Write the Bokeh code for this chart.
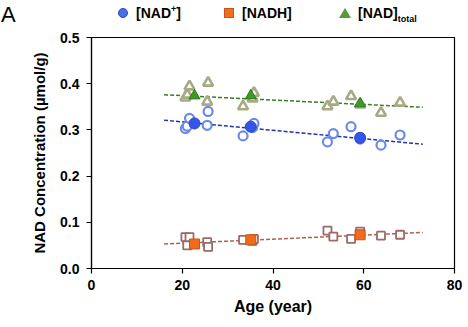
from bokeh.plotting import figure
from bokeh.models import Range1d, FixedTicker, NumeralTickFormatter, Div
from bokeh.layouts import column
from bokeh.embed import file_html
from bokeh.resources import INLINE

# individual subjects
ages = [20.7, 21.1, 21.6, 25.5, 25.7, 33.4, 35.5, 35.8, 52.0, 53.3, 57.2, 59.2, 63.8, 68.0]
nad_plus = [0.303, 0.308, 0.325, 0.310, 0.340, 0.287, 0.305, 0.314, 0.274, 0.292, 0.307, 0.280, 0.267, 0.289]
nadh = [0.068, 0.050, 0.068, 0.057, 0.047, 0.062, 0.060, 0.064, 0.082, 0.069, 0.064, 0.080, 0.071, 0.073]
nad_total = [0.370, 0.376, 0.394, 0.361, 0.402, 0.351, 0.368, 0.380, 0.351, 0.361, 0.373, 0.355, 0.337, 0.359]

# group means
mean_ages = [22.7, 35.1, 59.2]
mean_nad_plus = [0.314, 0.307, 0.283]
mean_nadh = [0.053, 0.062, 0.073]
mean_nad_total = [0.374, 0.374, 0.357]

# trend lines
trend_x = [16, 73]
trend_nad_plus = [0.321, 0.269]
trend_nadh = [0.053, 0.078]
trend_nad_total = [0.376, 0.349]

x_ticks = [0, 20, 40, 60, 80]
y_ticks = [0.0, 0.1, 0.2, 0.3, 0.4, 0.5]

FONT = "Liberation Sans"

p = figure(width=468, height=299, output_backend="svg", toolbar_location=None,
           x_range=Range1d(0, 80), y_range=Range1d(0, 0.5),
           min_border_left=91, min_border_right=14, min_border_top=9, min_border_bottom=59,
           margin=(0, 0, 0, 0))
p.xgrid.visible = False
p.ygrid.visible = False
p.outline_line_color = "black"
p.outline_line_width = 1.2
p.background_fill_color = "white"
p.border_fill_color = "white"

for ax in (p.xaxis[0], p.yaxis[0]):
    ax.major_tick_in = 0
    ax.major_tick_out = 5
    ax.minor_tick_line_color = None
    ax.axis_line_color = "black"
    ax.axis_line_width = 1.2
    ax.major_tick_line_width = 1.2
    ax.major_label_text_font = FONT
    ax.major_label_text_font_style = "bold"
    ax.major_label_text_font_size = "14px"
    ax.major_label_text_color = "black"
    ax.axis_label_text_font = FONT
    ax.axis_label_text_font_style = "bold"
    ax.axis_label_text_color = "black"

p.xaxis.ticker = FixedTicker(ticks=x_ticks)
p.yaxis.ticker = FixedTicker(ticks=y_ticks)
p.yaxis.formatter = NumeralTickFormatter(format="0.0")
p.xaxis.axis_label = "Age (year)"
p.yaxis.axis_label = "NAD Concentration (µmol/g)"
p.xaxis.axis_label_text_font_size = "16px"
p.yaxis.axis_label_text_font_size = "15px"
p.xaxis.axis_label_standoff = 5
p.yaxis.axis_label_standoff = 9
p.xaxis.major_label_standoff = 6
p.yaxis.major_label_standoff = 7

# trend lines
p.line(trend_x, trend_nad_total, line_color="#3c7d1e", line_dash="4 2", line_width=1.5)
p.line(trend_x, trend_nad_plus, line_color="#2233aa", line_dash="4 2", line_width=1.5)
p.line(trend_x, trend_nadh, line_color="#b0604e", line_dash="4 2", line_width=1.5)

# individual points (open)
p.scatter(ages, nad_total, marker="triangle", size=10, fill_color="white",
          line_color="#a6ab84", line_width=2.6)
p.scatter(ages, nad_plus, marker="circle", size=9, fill_color="white",
          line_color="#6a8ae6", line_width=2.2)
p.scatter(ages, nadh, marker="square", size=8, fill_color="white",
          line_color="#9c6a6a", line_width=1.8)

# means (filled)
p.scatter(mean_ages, mean_nad_total, marker="triangle", size=11, fill_color="#3f9a2a",
          line_color="#2d7a1c", line_width=1)
p.scatter(mean_ages, mean_nad_plus, marker="circle", size=11, fill_color="#3355e8",
          line_color="#2a45c0", line_width=1)
p.scatter(mean_ages, mean_nadh, marker="square", size=10, fill_color="#f26a1b",
          line_color="#c9541a", line_width=1)

# panel letter and legend header
legend_labels = ["[NAD", "+", "]", "[NADH]", "[NAD]", "total"]
txt = "position:absolute;font-family:'Liberation Sans',Arial,sans-serif;font-weight:bold;font-size:14px;line-height:16px;white-space:nowrap;color:black;"
small = "font-size:9px;line-height:9px;"
html = (
    "<div style='position:relative;width:468px;height:28px;background:white;'>"
    "<span style=\"position:absolute;left:1px;top:3px;font-family:'Liberation Sans',Arial,sans-serif;font-size:22px;line-height:24px;color:black;\">A</span>"
    "<span style='position:absolute;left:118px;top:8px;width:10px;height:10px;border-radius:50%;background:#4a6fe3;border:1px solid #2a45c0;box-sizing:border-box;'></span>"
    f"<span style=\"{txt}left:136px;top:5px;\">{legend_labels[0]}<span style='{small}vertical-align:6px;'>{legend_labels[1]}</span>{legend_labels[2]}</span>"
    "<span style='position:absolute;left:224px;top:8px;width:10px;height:10px;background:#f07020;border:1px solid #c9541a;box-sizing:border-box;'></span>"
    f"<span style=\"{txt}left:242px;top:5px;\">{legend_labels[3]}</span>"
    "<span style='position:absolute;left:339px;top:8px;width:0;height:0;border-left:6px solid transparent;border-right:6px solid transparent;border-bottom:10px solid #5a9a3a;'></span>"
    f"<span style=\"{txt}left:358px;top:5px;\">{legend_labels[4]}<span style='{small}vertical-align:-4px;'>{legend_labels[5]}</span></span>"
    "</div>"
)
header = Div(text=html, width=468, height=28, margin=(0, 0, 0, 0))

layout = column(header, p, spacing=0, margin=(0, 0, 0, 0))
open("out.html", "w").write(file_html(layout, INLINE))
